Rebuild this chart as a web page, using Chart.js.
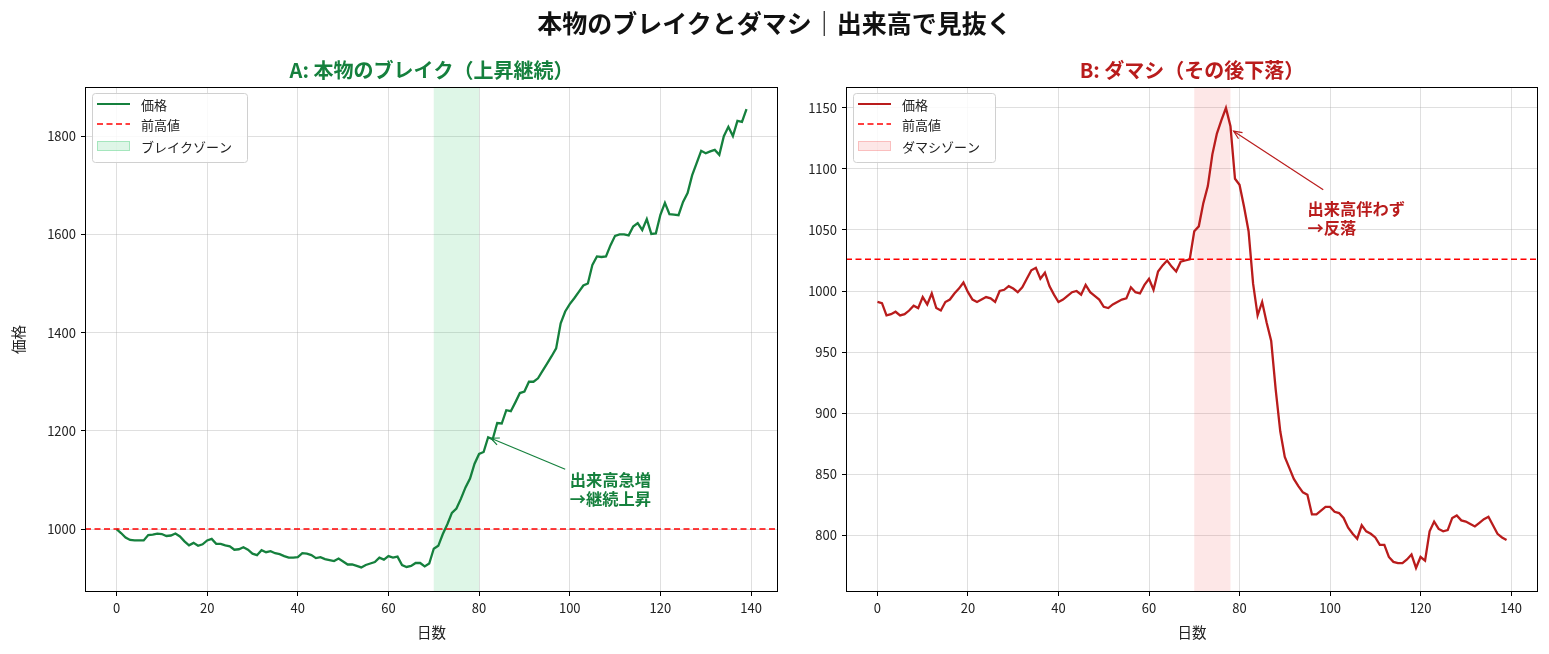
<!DOCTYPE html>
<html><head><meta charset="utf-8">
<script src="https://cdn.jsdelivr.net/npm/chart.js@4.4.1/dist/chart.umd.min.js"></script>
<style>
html,body{margin:0;padding:0;background:#fff;}
#wrap{position:relative;width:1549px;height:654px;overflow:hidden;background:#fff;}
canvas{position:absolute;top:0;}
#title{position:absolute;left:0;top:6px;width:1549px;text-align:center;font:bold 25px "Noto Sans CJK JP";line-height:32px;color:#111;z-index:2;}
</style></head><body>
<div id="wrap">
<div id="title">本物のブレイクとダマシ｜出来高で見抜く</div>
<canvas id="cA" width="790" height="654" style="left:0"></canvas>
<canvas id="cB" width="759" height="654" style="left:790px"></canvas>
</div>
<script>
const days = Array.from({length: 140}, (_, i) => i);
const priceBreak = [
  1000, 992, 983, 978, 977, 977, 977, 988, 989, 991,
  990, 986, 987, 991, 985, 975, 967, 972, 966, 969,
  977, 980, 970, 970, 967, 965, 958, 959, 963, 958,
  950, 947, 957, 953, 955, 951, 949, 945, 942, 942,
  943, 951, 950, 947, 941, 943, 939, 937, 935, 940,
  934, 928, 928, 925, 922, 927, 930, 933, 942, 938,
  945, 942, 944, 927, 923, 925, 931, 931, 924, 930,
  960, 966, 990, 1010, 1033, 1042, 1062, 1085, 1103, 1133,
  1153, 1157, 1187, 1183, 1216, 1215, 1242, 1240, 1258, 1277,
  1280, 1300, 1300, 1307, 1322, 1337, 1352, 1368, 1419, 1443,
  1458, 1470, 1483, 1496, 1500, 1538, 1555, 1554, 1555, 1578,
  1597, 1600, 1600, 1598, 1616, 1623, 1609, 1631, 1601, 1602,
  1640, 1664, 1641, 1640, 1639, 1666, 1684, 1720, 1745, 1770,
  1765, 1769, 1772, 1762, 1800, 1819, 1800, 1831, 1829, 1855
];
const priceFake = [
  991, 990, 980, 981, 983, 980, 981, 984, 988, 986,
  995, 989, 998, 986, 984, 991, 993, 998, 1002, 1007,
  999, 993, 991, 993, 995, 994, 991, 1000, 1001, 1004,
  1002, 999, 1003, 1010, 1017, 1019, 1010, 1015, 1004, 997,
  991, 993, 996, 999, 1000, 997, 1005, 999, 996, 993,
  987, 986, 989, 991, 993, 994, 1003, 999, 998, 1005,
  1010, 1001, 1016, 1021, 1025, 1020, 1016, 1024, 1025, 1026,
  1049, 1053, 1072, 1086, 1112, 1129, 1140, 1150, 1135, 1092,
  1087, 1069, 1049, 1006, 980, 991, 974, 959, 919, 885,
  864, 855, 846, 840, 835, 833, 817, 817, 820, 823,
  823, 819, 818, 814, 806, 801, 797, 808, 803, 801,
  798, 792, 792, 782, 778, 777, 777, 780, 784, 773,
  782, 779, 803, 811, 805, 803, 804, 814, 816, 812,
  811, 809, 807, 810, 813, 815, 808, 801, 798, 796
];
const prevHighBreak = 1000;
const prevHighFake = 1026;
const zoneBreak = [70, 80];
const zoneFake = [70, 78];
const xTicks = [0, 20, 40, 60, 80, 100, 120, 140];
const yTicksBreak = [1000, 1200, 1400, 1600, 1800];
const yTicksFake = [800, 850, 900, 950, 1000, 1050, 1100, 1150];
const legendBreak = ['価格', '前高値', 'ブレイクゾーン'];
const legendFake = ['価格', '前高値', 'ダマシゾーン'];
const titleBreak = 'A: 本物のブレイク（上昇継続）';
const titleFake = 'B: ダマシ（その後下落）';
const noteBreak = ['出来高急増', '→継続上昇'];
const noteFake = ['出来高伴わず', '→反落'];
const arrowBreak = {tip: [82.6, 1185], tail: [99, 1122], text: [100.0, 1100]};
const arrowFake = {tip: [78.7, 1131], tail: [98.5, 1083], text: [95.0, 1067]};

const FONT = '"Noto Sans CJK JP", "Noto Sans", sans-serif';
const X_MIN = -6.95, X_MAX = 145.95;

function build(id, o) {
  const overlay = {
    id: 'overlay',
    beforeDatasetsDraw(chart) {
      const {ctx, chartArea: a, scales: {x}} = chart;
      ctx.save();
      ctx.fillStyle = o.zoneFill;
      const x0 = x.getPixelForValue(o.zone[0]), x1 = x.getPixelForValue(o.zone[1]);
      ctx.fillRect(x0, a.top, x1 - x0, a.bottom - a.top);
      ctx.restore();
    },
    afterDraw(chart) {
      const {ctx, chartArea: a, scales: {x, y}} = chart;
      ctx.save();
      ctx.strokeStyle = '#000'; ctx.lineWidth = 1;
      ctx.strokeRect(a.left + 0.5, a.top + 0.5, a.right - a.left - 1, a.bottom - a.top - 1);
      ctx.fillStyle = o.color; ctx.font = 'bold 20px ' + FONT;
      ctx.textAlign = 'center'; ctx.textBaseline = 'middle';
      ctx.fillText(o.title, (a.left + a.right) / 2, 70);
      ctx.fillStyle = '#222'; ctx.font = '14.5px ' + FONT;
      ctx.fillText('日数', (a.left + a.right) / 2, 632);
      if (o.ylabel) {
        ctx.save(); ctx.translate(18, (a.top + a.bottom) / 2); ctx.rotate(-Math.PI / 2);
        ctx.fillText(o.ylabel, 0, 0); ctx.restore();
      }
      ctx.font = '13px ' + FONT;
      let tw = 0; o.legend.forEach(t => tw = Math.max(tw, ctx.measureText(t).width));
      const bx = a.left + 7, by = a.top + 6, bw = 56 + tw + 8, bh = 69;
      ctx.fillStyle = 'rgba(255,255,255,0.85)'; ctx.strokeStyle = '#d0d0d0'; ctx.lineWidth = 1;
      ctx.beginPath(); ctx.roundRect(bx + 0.5, by + 0.5, bw, bh, 3); ctx.fill(); ctx.stroke();
      const rows = [by + 11, by + 31, by + 53];
      const sx0 = bx + 5, sx1 = bx + 38;
      ctx.strokeStyle = o.color; ctx.lineWidth = 2.2;
      ctx.beginPath(); ctx.moveTo(sx0, rows[0]); ctx.lineTo(sx1, rows[0]); ctx.stroke();
      ctx.strokeStyle = '#ff0000'; ctx.lineWidth = 1.5; ctx.setLineDash([6, 3.5]);
      ctx.beginPath(); ctx.moveTo(sx0, rows[1]); ctx.lineTo(sx1, rows[1]); ctx.stroke();
      ctx.setLineDash([]);
      ctx.fillStyle = o.zoneFill; ctx.fillRect(sx0, rows[2] - 5, sx1 - sx0, 10);
      ctx.strokeStyle = o.zoneEdge; ctx.lineWidth = 1; ctx.strokeRect(sx0 + 0.5, rows[2] - 5 + 0.5, sx1 - sx0 - 1, 9);
      ctx.fillStyle = '#222'; ctx.textAlign = 'left'; ctx.textBaseline = 'middle';
      o.legend.forEach((t, i) => ctx.fillText(t, bx + 49, rows[i] + 1));
      const px = p => [x.getPixelForValue(p[0]), y.getPixelForValue(p[1])];
      const [tx, ty] = px(o.arrow.tip), [sx, sy] = px(o.arrow.tail);
      ctx.strokeStyle = o.color; ctx.lineWidth = 1.2;
      ctx.beginPath(); ctx.moveTo(sx, sy); ctx.lineTo(tx, ty); ctx.stroke();
      const ang = Math.atan2(ty - sy, tx - sx), hl = 9, hw = 0.42;
      ctx.beginPath();
      ctx.moveTo(tx - hl * Math.cos(ang - hw), ty - hl * Math.sin(ang - hw));
      ctx.lineTo(tx, ty);
      ctx.lineTo(tx - hl * Math.cos(ang + hw), ty - hl * Math.sin(ang + hw));
      ctx.stroke();
      const [nx, ny] = px(o.arrow.text);
      ctx.fillStyle = o.color; ctx.font = 'bold 16.3px ' + FONT;
      ctx.textAlign = 'left'; ctx.textBaseline = 'middle';
      o.note.forEach((t, i) => ctx.fillText(t, nx, ny + i * 19));
      ctx.restore();
    }
  };
  return new Chart(document.getElementById(id), {
    type: 'line',
    data: {datasets: [
      {data: o.prices.map((v, i) => ({x: days[i], y: v})), borderColor: o.color, borderWidth: 2.3,
       pointRadius: 0, tension: 0, fill: false, order: 2},
      {data: [{x: X_MIN, y: o.prevHigh}, {x: X_MAX, y: o.prevHigh}], borderColor: '#ff0000', borderWidth: 1.5,
       borderDash: [6, 3.5], pointRadius: 0, fill: false, order: 1}
    ]},
    options: {
      responsive: false, animation: false, devicePixelRatio: 1,
      layout: {padding: {left: 0, right: o.padRight, top: 87, bottom: 0}},
      plugins: {legend: {display: false}, tooltip: {enabled: false}},
      scales: {
        x: {type: 'linear', min: X_MIN, max: X_MAX,
            afterFit: s => { s.height = 62; },
            afterBuildTicks: s => { s.ticks = xTicks.map(v => ({value: v})); },
            grid: {color: 'rgba(170,170,170,0.38)', tickColor: '#000', tickLength: 4},
            border: {display: false},
            ticks: {font: {family: FONT, size: 13}, color: '#222', padding: 4, maxRotation: 0,
                    callback: v => String(v)}},
        y: {type: 'linear', min: o.yMin, max: o.yMax,
            afterFit: s => { s.width = o.yWidth; },
            afterBuildTicks: s => { s.ticks = o.yTicks.map(v => ({value: v})); },
            grid: {color: 'rgba(170,170,170,0.38)', tickColor: '#000', tickLength: 4},
            border: {display: false},
            ticks: {font: {family: FONT, size: 13}, color: '#222', padding: 5,
                    callback: v => String(v)}}
      }
    },
    plugins: [overlay]
  });
}

build('cA', {prices: priceBreak, prevHigh: prevHighBreak, zone: zoneBreak, yTicks: yTicksBreak,
  yMin: 872, yMax: 1900, yWidth: 85, padRight: 12, color: '#15803d',
  zoneFill: 'rgba(34,197,94,0.15)', zoneEdge: 'rgba(34,197,94,0.3)',
  legend: legendBreak, title: titleBreak, note: noteBreak, arrow: arrowBreak, ylabel: '価格'});
build('cB', {prices: priceFake, prevHigh: prevHighFake, zone: zoneFake, yTicks: yTicksFake,
  yMin: 753.3, yMax: 1167.2, yWidth: 56, padRight: 11, color: '#b91c1c',
  zoneFill: 'rgba(239,68,68,0.13)', zoneEdge: 'rgba(239,68,68,0.25)',
  legend: legendFake, title: titleFake, note: noteFake, arrow: arrowFake, ylabel: null});
</script>
</body></html>
